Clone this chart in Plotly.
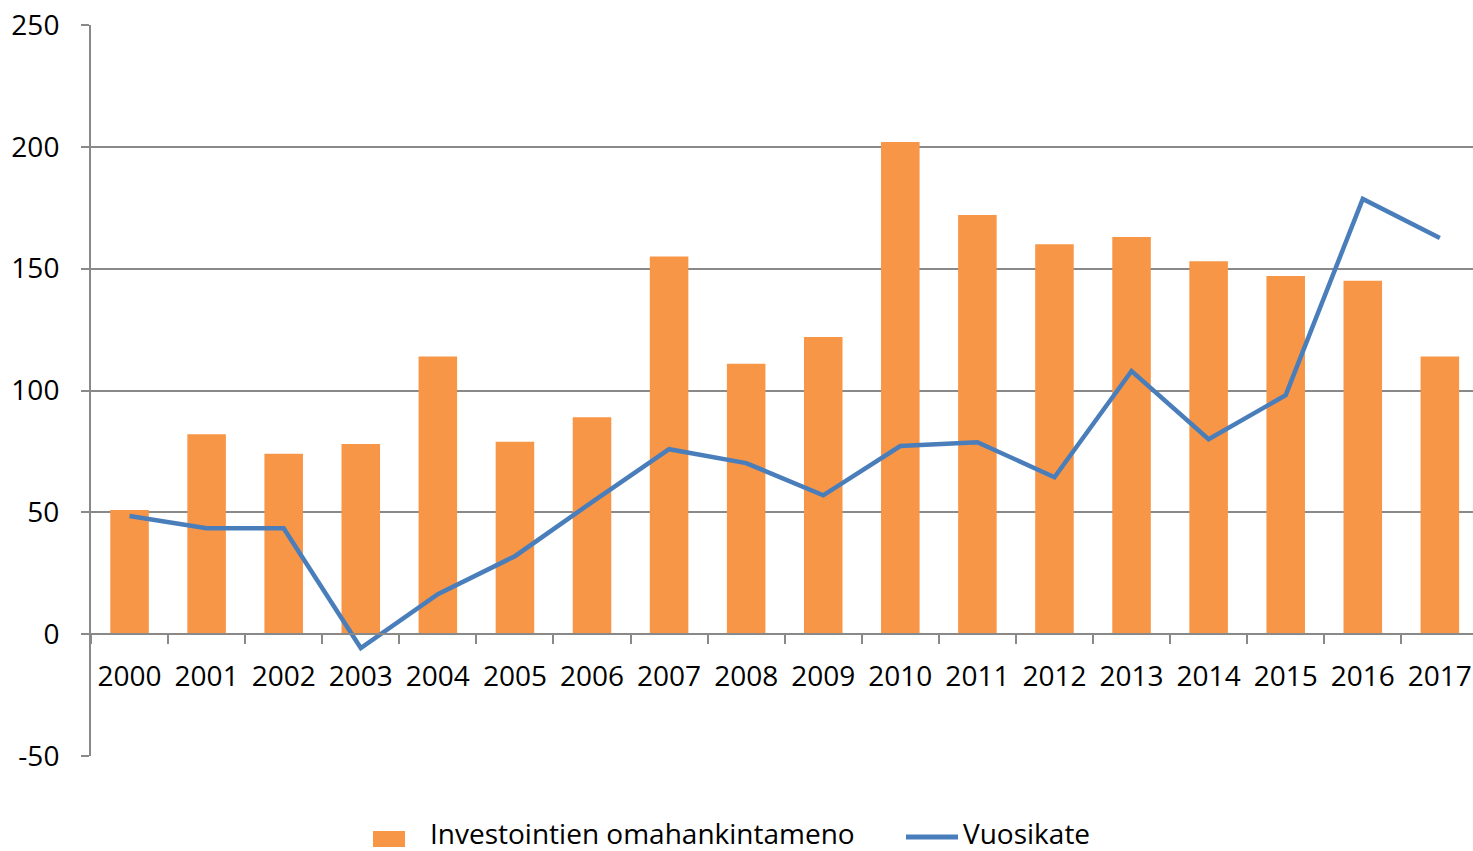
import plotly.graph_objects as go

years = [str(y) for y in range(2000, 2018)]
investoinnit = [51, 82, 74, 78, 114, 79, 89, 155, 111, 122, 202, 172, 160, 163, 153, 147, 145, 114]
vuosikate = [48.5, 43.5, 43.5, -5.7, 16.4, 32, 54.2, 75.9, 70.2, 57, 77.2, 78.8, 64.4, 108, 80, 98.1, 178.6, 162.6]
y_ticks = [-50, 0, 50, 100, 150, 200, 250]
y_labels = ["-50", "0", "50", "100", "150", "200", "250"]
series_names = ["Investointien omahankintameno", "Vuosikate"]

FONT = "Open Sans"
GRID = "#898989"
ORANGE = "#F79646"
BLUE = "#4A7EBB"

L, T, B, W, H = 91, 25, 95, 1473, 851
PW, PH = W - L, H - T - B


def px(xp):
    return (xp - L) / PW


def py(yp):
    return (H - B - yp) / PH


fig = go.Figure()
fig.add_trace(go.Bar(
    x=years, y=investoinnit, name=series_names[0],
    marker=dict(color=ORANGE, line=dict(width=0)),
))
fig.add_trace(go.Scatter(
    x=years, y=vuosikate, name=series_names[1], mode="lines",
    line=dict(color=BLUE, width=4.5),
))

fig.update_layout(
    width=W, height=H,
    margin=dict(l=L, r=0, t=T, b=B),
    paper_bgcolor="white", plot_bgcolor="white",
    font=dict(family=FONT, size=28, color="black"),
    bargap=0.5,
    showlegend=False,
    xaxis=dict(
        type="category", range=[-0.5, 17.43],
        anchor="free", position=1/6, automargin=False,
        showline=True, linecolor=GRID, linewidth=2,
        ticks="outside", tickson="boundaries", ticklen=9, tickwidth=2, tickcolor=GRID,
        showgrid=False, zeroline=False,
        ticklabelstandoff=17,
        tickfont=dict(family=FONT, size=28, color="black"),
    ),
    yaxis=dict(
        range=[-50, 250], tickvals=y_ticks, ticktext=y_labels, automargin=False,
        showgrid=True, gridcolor=GRID, gridwidth=2,
        showline=True, linecolor=GRID, linewidth=2,
        ticks="outside", ticklen=8, tickwidth=2, tickcolor=GRID,
        zeroline=False,
        ticklabelstandoff=16,
        tickfont=dict(family=FONT, size=28, color="black"),
    ),
)

# legend drawn in the bottom margin
fig.add_shape(type="rect", xref="paper", yref="paper",
              x0=px(373), x1=px(405), y0=py(847), y1=py(831),
              fillcolor=ORANGE, line=dict(width=0))
fig.add_shape(type="line", xref="paper", yref="paper",
              x0=px(906), x1=px(958), y0=py(837), y1=py(837),
              line=dict(color=BLUE, width=5))
fig.add_annotation(xref="paper", yref="paper", x=px(428), y=py(833),
                   xanchor="left", yanchor="middle", showarrow=False,
                   text=series_names[0], font=dict(family=FONT, size=28, color="black"))
fig.add_annotation(xref="paper", yref="paper", x=px(961), y=py(833),
                   xanchor="left", yanchor="middle", showarrow=False,
                   text=series_names[1], font=dict(family=FONT, size=28, color="black"))

fig.write_html(
    "out.html",
    config={"displayModeBar": False},
    post_script="document.body.style.margin='0';document.body.style.overflow='hidden';",
)
